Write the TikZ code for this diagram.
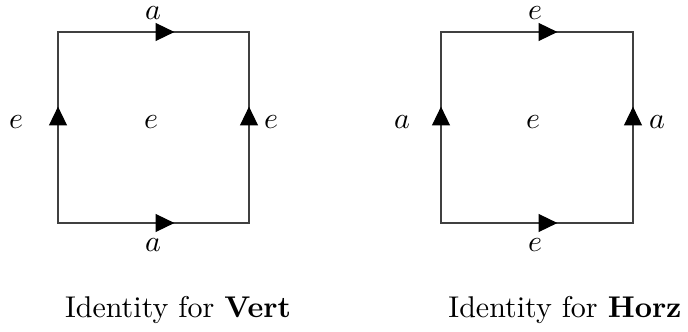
\documentclass[tikz,border=0pt]{standalone}
\usepackage{tikz}
\usetikzlibrary{arrows.meta,decorations.markings}

\begin{document}
\begin{tikzpicture}[
  x=0.3333pt, y=-0.3333pt,
  side/.style={draw=black!75, line width=0.4pt, line cap=rect, postaction={decorate},
    decoration={markings, mark=at position 38.8pt with {\arrow[black]{Triangle[length=6.3pt,width=6pt]}}}},
  lab/.style={inner sep=0pt},
  captext/.style={anchor=base, inner sep=0pt}
]
\useasboundingbox (0,0) rectangle (688,332);
% identity for Vert
\coordinate (vbl) at (58,223);
\coordinate (vbr) at (249,223);
\coordinate (vtl) at (58,32);
\coordinate (vtr) at (249,32);
\draw[side] (vtl) -- (vtr);
\draw[side] (vbl) -- (vbr);
\draw[side] (vbl) -- (vtl);
\draw[side] (vbr) -- (vtr);
\node[lab] (vtop) at (153,13) {$a$};
\node[lab] (vbot) at (153,245) {$a$};
\node[lab] (vleft) at (16,122) {$e$};
\node[lab] (vmid) at (151,122) {$e$};
\node[lab] (vright) at (271,122) {$e$};
\node[captext] (vcap) at (178,317) {Identity for \textbf{Vert}};
% identity for Horz
\coordinate (hbl) at (441,223);
\coordinate (hbr) at (633,223);
\coordinate (htl) at (441,32);
\coordinate (htr) at (633,32);
\draw[side] (htl) -- (htr);
\draw[side] (hbl) -- (hbr);
\draw[side] (hbl) -- (htl);
\draw[side] (hbr) -- (htr);
\node[lab] (htop) at (535,13) {$e$};
\node[lab] (hbot) at (535,245) {$e$};
\node[lab] (hleft) at (402,122) {$a$};
\node[lab] (hmid) at (533,122) {$e$};
\node[lab] (hright) at (657,122) {$a$};
\node[captext] (hcap) at (565,317) {Identity for \textbf{Horz}};
\end{tikzpicture}
\end{document}
